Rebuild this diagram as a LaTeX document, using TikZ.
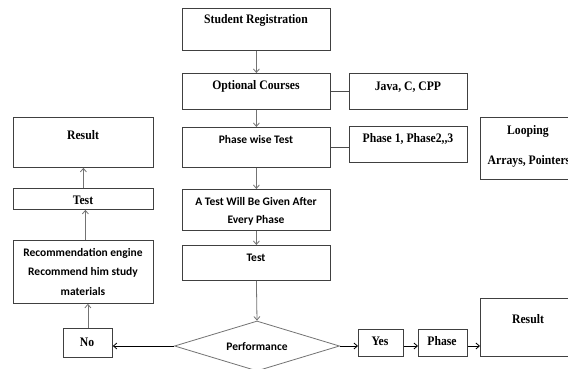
\documentclass[tikz,border=0pt]{standalone}
\usepackage{fontspec}
\setmainfont{Liberation Serif}
\newfontfamily\timesb{Liberation Serif}[FakeStretch=0.9]
\newfontfamily\calib{Carlito}
\usetikzlibrary{arrows.meta,shapes.geometric}

\begin{document}
\begin{tikzpicture}[x=1pt,y=-1pt,
  box/.style={draw=black!75, line width=0.8pt, inner sep=0pt, anchor=north west},
  tt/.style={font=\timesb\bfseries\fontsize{13}{15}\selectfont, inner sep=0pt, align=center},
  ct/.style={font=\calib\bfseries\fontsize{11.5}{14}\selectfont, inner sep=0pt, align=center},
  arr/.style={draw=black!55, line width=0.8pt, -{Straight Barb[length=3.5pt,width=6pt]}},
  harr/.style={draw=black, line width=0.8pt, -{Straight Barb[length=3.5pt,width=6pt]}},
  link/.style={draw=black!70, line width=0.8pt}]
\useasboundingbox (0,0) rectangle (568,369);
\fill[white] (0,0) rectangle (568,369);

% main column
\node[box, minimum width=148pt, minimum height=42pt] (sr)  at (182,8)   {};
\node[box, minimum width=148pt, minimum height=36pt] (oc)  at (182,73)  {};
\node[box, minimum width=148pt, minimum height=40pt] (pwt) at (182,127) {};
\node[box, minimum width=148pt, minimum height=41pt] (atw) at (182,189) {};
\node[box, minimum width=148pt, minimum height=35pt] (tst) at (182,245) {};
\node[diamond, draw=black!55, line width=0.8pt, inner sep=0pt,
      minimum width=165pt, minimum height=50pt] (perf) at (257,346) {};

\node[tt] (srT)  at (256,20)  {Student Registration};
\node[tt] (ocT)  at (256,86)  {Optional Courses};
\node[ct] (pwtT) at (256,140) {Phase wise Test};
\node[ct] (atwT1) at (256,202) {A Test Will Be Given After};
\node[ct] (atwT2) at (256,220) {Every Phase};
\node[ct] (tstT) at (256,258) {Test};
\node[ct] (perfT) at (257,347) {Performance};

% side boxes on the right
\node[box, minimum width=118pt, minimum height=36pt] (java) at (349,73)  {};
\node[box, minimum width=118pt, minimum height=36pt] (ph)   at (349,126) {};
\node[box, minimum width=96pt,  minimum height=62pt] (loop) at (480,117) {};
\node[tt] (javaT) at (408,87)  {Java, C, CPP};
\node[tt] (phT)   at (408,139) {Phase 1, Phase2,,3};
\node[tt] (loopT1) at (528,131) {Looping};
\node[tt] (loopT2) at (529,161) {Arrays, Pointers};

% left column
\node[box, minimum width=140pt, minimum height=50pt] (resL)  at (13,117) {};
\node[box, minimum width=140pt, minimum height=21pt] (testL) at (13,188) {};
\node[box, minimum width=140pt, minimum height=63pt] (rec)   at (13,240) {};
\node[box, minimum width=49pt,  minimum height=29pt] (no)    at (63,328) {};
\node[tt] (resLT)  at (83,135) {Result};
\node[tt] (testLT) at (83,200) {Test};
\node[ct] (recT1) at (83,253) {Recommendation engine};
\node[ct] (recT2) at (83,272) {Recommend him study};
\node[ct] (recT3) at (83,292) {materials};
\node[tt] (noT) at (87,342) {No};

% bottom right
\node[box, minimum width=45pt, minimum height=27pt] (yes)   at (358,329) {};
\node[box, minimum width=49pt, minimum height=27pt] (phase) at (418,329) {};
\node[box, minimum width=96pt, minimum height=58pt] (resR)  at (480,298) {};
\node[tt] (yesT)   at (380,341) {Yes};
\node[tt] (phaseT) at (442,341) {Phase};
\node[tt] (resRT)  at (528,319) {Result};

% connectors
\draw[arr] (sr.south) -- (oc.north);
\draw[arr] (oc.south) -- (pwt.north);
\draw[arr] (pwt.south) -- (atw.north);
\draw[arr] (atw.south) -- (tst.north);
\draw[arr] (tst.south) -- (perf.north);
\draw[link] (oc.east) -- (java.west);
\draw[link] (pwt.east) -- (pwt.east -| ph.west);

\draw[harr] (perf.west) -- (perf.west -| no.east);
\draw[arr] (no.north) -- (no.north |- rec.south);
\draw[arr] ([xshift=2pt]rec.north) -- ([xshift=2pt]testL.south);
\draw[arr] (testL.north) -- (resL.south);

\draw[harr] (perf.east) -- (perf.east -| yes.west);
\draw[harr] (yes.east |- perf.east) -- (phase.west |- perf.east);
\draw[harr] (phase.east |- perf.east) -- (resR.west |- perf.east);
\end{tikzpicture}
\end{document}
